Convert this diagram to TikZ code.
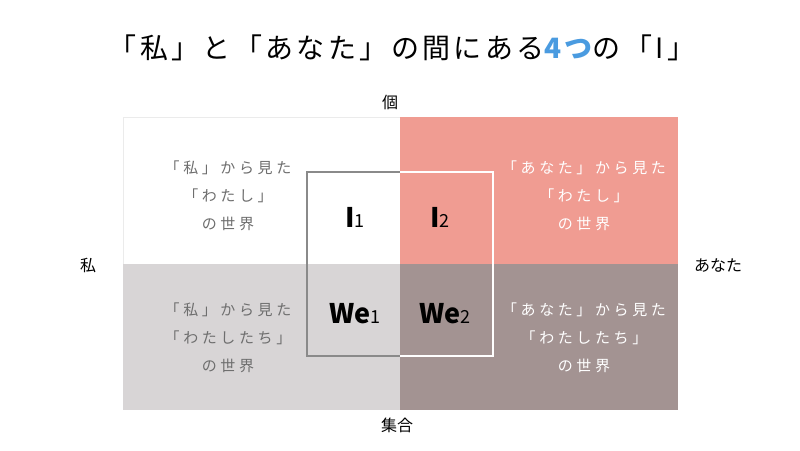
\documentclass[tikz,border=0pt]{standalone}
\usepackage{fontspec}
\setmainfont{Noto Sans CJK JP}
\newfontfamily\jpwide[LetterSpace=24]{Noto Sans CJK JP}
\newfontfamily\jptitle[LetterSpace=12]{Noto Sans CJK JP}
\definecolor{pinkq}{HTML}{F09C92}
\definecolor{brownq}{HTML}{A39392}
\definecolor{grayq}{HTML}{D8D5D6}
\definecolor{txtg}{HTML}{6E6E6E}
\definecolor{bluet}{HTML}{4A9BE0}
\definecolor{frameg}{HTML}{8A8A8A}
\tikzset{
  quad/.style={align=center, font=\jpwide\fontsize{15}{28}\selectfont, inner sep=0pt},
  ilabel/.style={font=\bfseries\fontsize{27}{30}\selectfont, inner sep=0pt, anchor=base},
  axis/.style={font=\fontsize{16}{18}\selectfont, inner sep=0pt},
}
\newcommand{\sub}[1]{{\mdseries\fontsize{18}{18}\selectfont #1}}
\begin{document}
\begin{tikzpicture}[x=1pt,y=-1pt]
\useasboundingbox (0,0) rectangle (800,450);
\fill[white] (0,0) rectangle (800,450);
% quadrants
\fill[white] (123,117) rectangle (400,264);
\draw[black!8, line width=1] (123,264) -- (123,117) -- (400,117);
\fill[pinkq] (400,117) rectangle (678,264);
\fill[grayq] (123,264) rectangle (400,410);
\fill[brownq] (400,264) rectangle (678,410);
% inner frame
\draw[frameg, line width=2.5] (400,172) -- (307,172) -- (307,356) -- (400,356);
\draw[white, line width=2.5] (400,172) -- (493,172) -- (493,356) -- (400,356);
% title
\node[font=\jptitle\fontsize{28}{32}\selectfont, inner sep=0pt] (title) at (402,48)
  {「私」と「あなた」の間にある{\bfseries\color{bluet}4つ}の「I」};
% axes
\node[axis] (ko) at (390,102) {個};
\node[axis] (shugo) at (397,425) {集合};
\node[axis] (watashi) at (88,265) {私};
\node[axis] (anata) at (718,265) {あなた};
% quadrant texts
\node[quad, text=txtg] (q1) at (228,196) {「私」から見た\\「わたし」\\の世界};
\node[quad, text=white] (q2) at (584,196) {「あなた」から見た\\「わたし」\\の世界};
\node[quad, text=txtg] (q3) at (228,338) {「私」から見た\\「わたしたち」\\の世界};
\node[quad, text=white] (q4) at (584,338) {「あなた」から見た\\「わたしたち」\\の世界};
% I labels
\node[ilabel] (i1) at (355,227) {I\sub{1}};
\node[ilabel] (i2) at (440,227) {I\sub{2}};
\node[ilabel] (we1) at (355,323) {We\sub{1}};
\node[ilabel] (we2) at (445,323) {We\sub{2}};
\end{tikzpicture}
\end{document}
